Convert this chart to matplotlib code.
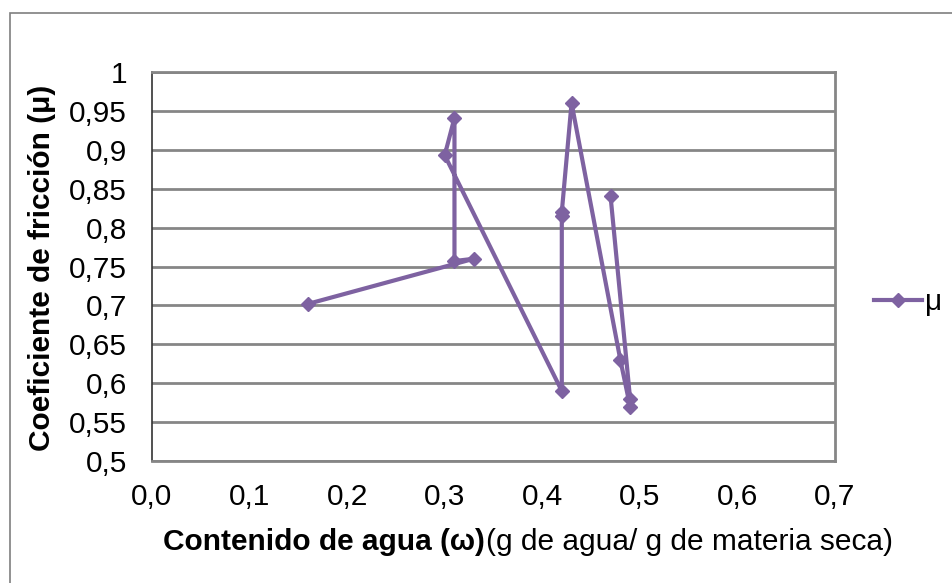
import matplotlib
matplotlib.use("Agg")
import matplotlib.pyplot as plt
from matplotlib.patches import Rectangle
from matplotlib.ticker import FuncFormatter

plt.rcParams["font.family"] = ["Liberation Sans", "DejaVu Sans"]

# contenido de agua (g agua / g materia seca) and coeficiente de friccion, in plot order
agua = [0.16, 0.33, 0.31, 0.31, 0.30, 0.42, 0.42, 0.42, 0.43, 0.48, 0.49, 0.49, 0.47]
mu = [0.702, 0.760, 0.757, 0.941, 0.893, 0.590, 0.815, 0.820, 0.960, 0.630, 0.570, 0.580, 0.840]

x_ticks = [0.0, 0.1, 0.2, 0.3, 0.4, 0.5, 0.6, 0.7]
y_ticks = [0.5, 0.55, 0.6, 0.65, 0.7, 0.75, 0.8, 0.85, 0.9, 0.95, 1.0]

purple = "#7E62A1"
grid_gray = "#868686"
fs = 21.5

fig = plt.figure(figsize=(9.53, 5.83), dpi=100)
ax = fig.add_axes([152 / 953, 1 - 461 / 583, 683 / 953, 389 / 583])

# outer chart border
fig.patches.append(Rectangle((10 / 953, -0.1), 1.2, 1 - 13 / 583 + 0.1, transform=fig.transFigure,
                             fill=False, edgecolor="#7f7f7f", linewidth=1.2))

ax.plot(agua, mu, color=purple, linewidth=3, marker="D", markersize=7.5, label="μ")

ax.set_xlim(0, 0.7)
ax.set_ylim(0.5, 1.0)
ax.set_xticks(x_ticks)
ax.set_yticks(y_ticks)
ax.xaxis.set_major_formatter(FuncFormatter(lambda v, p: f"{v:.1f}".replace(".", ",")))
ax.yaxis.set_major_formatter(FuncFormatter(lambda v, p: f"{v:g}".replace(".", ",")))
ax.tick_params(axis="both", length=0, labelsize=fs)
ax.tick_params(axis="x", pad=16)
ax.tick_params(axis="y", pad=18)

ax.grid(axis="y", color=grid_gray, linewidth=2)
ax.set_axisbelow(True)
for side in ["top", "right", "bottom"]:
    ax.spines[side].set_color(grid_gray)
    ax.spines[side].set_linewidth(2)
ax.spines["left"].set_color("#333333")
ax.spines["left"].set_linewidth(1.2)

# axis titles
fig.text(42 / 953, 1 - 268 / 583, "Coeficiente de fricción (μ)", rotation=90, fontsize=fs,
         fontweight="bold", ha="center", va="center")
t1 = fig.text(163 / 953, 1 - 542 / 583, "Contenido de agua (ω)", fontsize=fs, fontweight="bold",
              ha="left", va="center")
ax.annotate("(g de agua/ g de materia seca)", xy=(1, 0.5), xycoords=t1, xytext=(1, 0),
            textcoords="offset points", fontsize=fs, ha="left", va="center")

ax.legend(loc="center left", bbox_to_anchor=(862 / 953, 1 - 302 / 583), bbox_transform=fig.transFigure,
          frameon=False, fontsize=fs, handlelength=1.6, handletextpad=0.1, borderaxespad=0)

fig.savefig("out.png", dpi=100)
